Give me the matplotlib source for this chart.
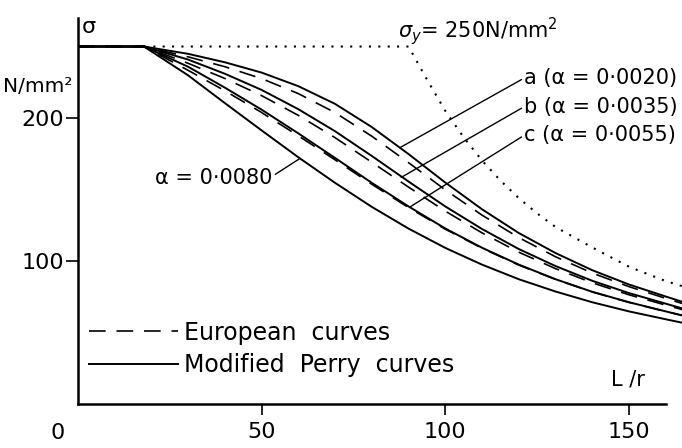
import matplotlib
matplotlib.use("Agg")
import matplotlib.pyplot as plt

# slenderness ratio L/r
slender = [0, 18, 30, 40, 50, 60, 70, 80, 90, 100, 110, 120, 130, 140, 150, 160, 165]

# modified Perry curves (solid), sigma in N/mm2
perry_a = [250, 250, 244.9, 239.0, 231.8, 222.3, 209.9, 193.7, 174.8, 154.9, 136.2, 119.6, 105.6, 93.6, 83.6, 75.2, 71.1]
perry_b = [250, 250, 240.9, 231.0, 219.7, 206.2, 190.8, 173.5, 155.6, 138.2, 122.4, 108.4, 96.5, 86.2, 77.6, 70.2, 66.5]
perry_c = [250, 250, 235.9, 221.3, 205.9, 189.3, 172.1, 154.7, 138.2, 122.8, 109.3, 97.5, 87.3, 78.5, 71.2, 64.8, 61.7]
perry_d = [250, 250, 229.9, 210.5, 191.4, 172.6, 154.7, 137.9, 122.7, 109.2, 97.5, 87.3, 78.7, 71.2, 64.8, 59.3, 56.6]

# European curves (dashed)
euro_a = [250, 250, 242.8, 235.9, 227.6, 217.1, 203.8, 187.3, 168.8, 149.8, 132.1, 116.4, 103.0, 91.6, 82.1, 73.9, 69.9]
euro_b = [250, 250, 238.3, 227.7, 215.7, 201.9, 186.3, 169.1, 151.7, 134.9, 119.7, 106.2, 94.7, 84.8, 76.4, 69.2, 65.7]
euro_c = [250, 250, 233.4, 219.1, 203.9, 187.6, 170.8, 153.7, 137.4, 122.3, 109.0, 97.2, 87.2, 78.4, 71.1, 64.7, 61.6]

# yield plateau + Euler curve (dotted)
euler_x = [18, 90, 95, 100, 105, 110, 115, 120, 125, 130, 140, 150, 160, 165]
euler_y = [250, 250, 227, 205, 186.5, 170.3, 156.3, 144, 133.3, 123.8, 109.5, 96, 86, 82]

FS = 16
plt.rcParams['font.family'] = ['DejaVu Sans']
plt.rcParams['mathtext.fontset'] = 'dejavusans'

fig = plt.figure(figsize=(6.82, 4.48), dpi=100)
ax = fig.add_axes([0.114, 0.098, 0.886, 0.862])

solid = dict(color='black', lw=1.4)
dash = dict(color='black', lw=1.2, linestyle=(0, (10, 6.5)))

ax.plot(euler_x, euler_y, color='black', lw=1.5, linestyle=(0, (1, 3.5)))
ax.plot(slender, perry_a, label='Modified  Perry  curves', **solid)
ax.plot(slender, perry_b, **solid)
ax.plot(slender, perry_c, **solid)
ax.plot(slender, perry_d, **solid)
ax.plot(slender, euro_a, label='European  curves', **dash)
ax.plot(slender, euro_b, **dash)
ax.plot(slender, euro_c, **dash)

ax.set_xlim(0, 164.4)
ax.set_ylim(0, 270)
ax.spines['top'].set_visible(False)
ax.spines['right'].set_visible(False)
ax.spines['left'].set_linewidth(1.8)
ax.spines['bottom'].set_linewidth(1.8)
ax.spines['bottom'].set_bounds(0, 160)

ax.set_xticks([50, 100, 150])
ax.set_yticks([100, 200])
ax.tick_params(axis='x', direction='out', length=8, width=1.2, pad=5, labelsize=FS)
ax.tick_params(axis='y', direction='out', length=9, width=1.2, pad=1, labelsize=FS)

# axis texts
ax.text(-5.5, -20, '0', fontsize=FS, ha='center', va='center', clip_on=False)
ax.text(1.2, 264, 'σ', fontsize=FS, ha='left', va='center')
ax.text(-1.5, 222, 'N/mm²', fontsize=14.5, ha='right', va='center', clip_on=False)
ax.text(145, 17, 'L /r', fontsize=FS - 1, ha='left', va='center')
ax.text(87, 261, r'$\sigma_y$= 250N/mm$^2$', fontsize=15, ha='left', va='center')

# curve labels with leader lines
lead = dict(arrowstyle='-', color='black', lw=1.0, shrinkA=0, shrinkB=0)
ax.annotate('a (α = 0·0020)', xy=(87.8, 179.5), xytext=(121.5, 228), fontsize=FS - 1,
            ha='left', va='center', arrowprops=dict(relpos=(0, 0.5), **lead))
ax.annotate('b (α = 0·0035)', xy=(88, 158.5), xytext=(121.5, 208), fontsize=FS - 1,
            ha='left', va='center', arrowprops=dict(relpos=(0, 0.5), **lead))
ax.annotate('c (α = 0·0055)', xy=(90.5, 138), xytext=(121.5, 188), fontsize=FS - 1,
            ha='left', va='center', arrowprops=dict(relpos=(0, 0.5), **lead))
ax.annotate('α = 0·0080', xy=(60.3, 171.5), xytext=(53, 158), fontsize=FS - 1,
            ha='right', va='center', arrowprops=dict(relpos=(1, 0.6), **lead))

handles, labels = ax.get_legend_handles_labels()
ax.legend(handles[::-1], labels[::-1], loc='upper left', bbox_to_anchor=(0.018, 0.216),
          frameon=False, fontsize=17, handlelength=3.8, handletextpad=0.25,
          labelspacing=0.36, borderpad=0, borderaxespad=0)

fig.savefig('out.png', dpi=100)
